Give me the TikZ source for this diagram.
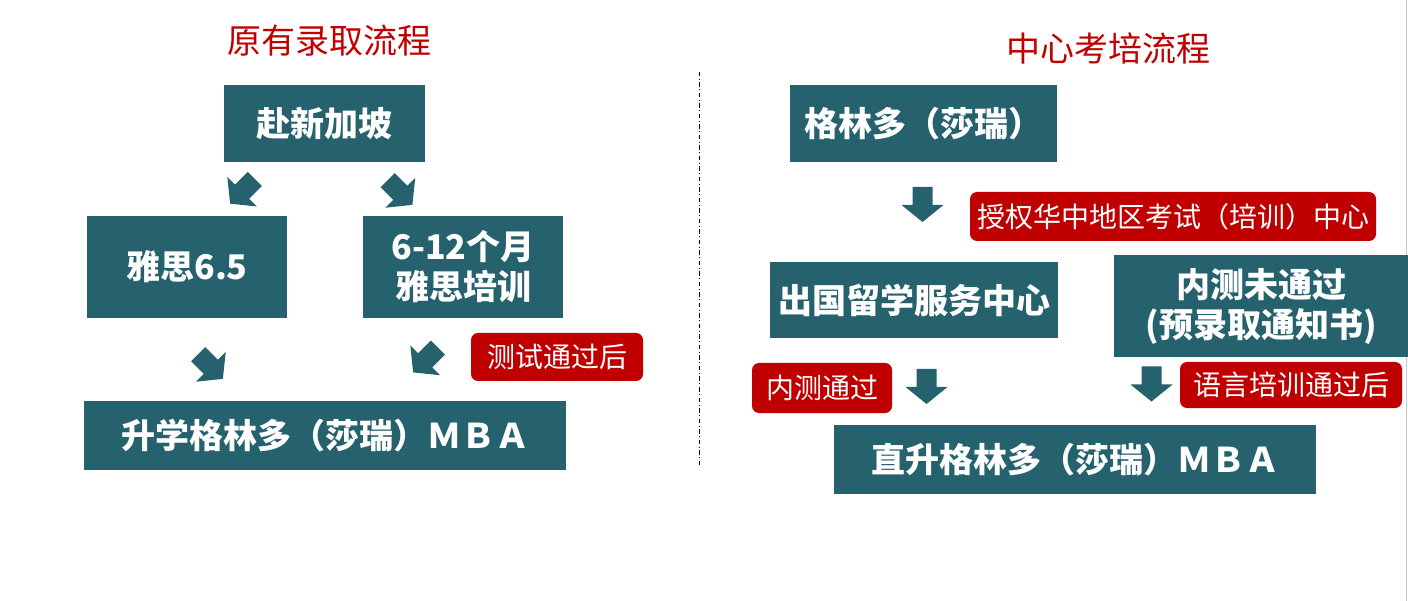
\documentclass[tikz,border=0pt]{standalone}
\usepackage{fontspec}
\setmainfont{Noto Sans CJK SC}
\definecolor{boxteal}{HTML}{26626E}
\definecolor{boxred}{HTML}{C00000}
\begin{document}
\begin{tikzpicture}[x=1pt,y=-1pt,
  tbox/.style={fill=boxteal, text=white, inner sep=0pt, align=center,
    font=\bfseries\fontsize{34}{40}\selectfont},
  rlabel/.style={fill=boxred, text=white, inner sep=0pt, rounded corners=7pt,
    font=\fontsize{28}{34}\selectfont},
  ttl/.style={text=boxred, inner sep=0pt, font=\fontsize{34}{40}\selectfont},
  divider/.style={black, line width=1pt, dash pattern=on 4.5pt off 2.5pt on 1pt off 2.5pt},
  blockarrow/.pic={\fill[boxteal] (-10,-17.5) -- (10,-17.5) -- (10,0.5) -- (21,0.5)
    -- (0,17.5) -- (-21,0.5) -- (-10,0.5) -- cycle;}]
\useasboundingbox (0,0) rectangle (1408,601);
\fill[white] (0,0) rectangle (1408,601);
\draw[black!22, line width=1.5pt] (1406.5,0) -- (1406.5,601);
% titles
\node[ttl] (t1) at (329,41) {原有录取流程};
\node[ttl] (t2) at (1108,48) {中心考培流程};
% divider
\draw[divider] (699,72) -- (699,465);
% left flow
\node[tbox, minimum width=201pt, minimum height=77pt] (n1) at (324.5,123.5) {赴新加坡};
\node[tbox, minimum width=200pt, minimum height=102pt] (n2) at (187,267) {雅思6.5};
\node[tbox, minimum width=200pt, minimum height=102pt] (n3) at (463,267) {6-12个月\\雅思培训};
\node[rlabel, minimum width=172pt, minimum height=48pt] (r1) at (557,357) {测试通过后};
\node[tbox, minimum width=482pt, minimum height=69pt] (n4) at (325,435.5) {升学格林多（莎瑞）ＭＢＡ};
\pic[rotate=-45] (aL1) at (242.5,191.3) {blockarrow};
\pic[rotate=45] (aR1) at (400,192.5) {blockarrow};
\pic[rotate=45] (aL2) at (210.5,366.5) {blockarrow};
\pic[rotate=-45] (aR2) at (425.5,360) {blockarrow};
% right flow
\node[tbox, minimum width=267pt, minimum height=77pt] (m1) at (923.5,123.5) {格林多（莎瑞）};
\node[rlabel, minimum width=406pt, minimum height=49pt] (r2) at (1173,216.5) {授权华中地区考试（培训）中心};
\node[tbox, minimum width=288pt, minimum height=76pt] (m2) at (914,300) {出国留学服务中心};
\node[tbox, minimum width=295pt, minimum height=102pt] (m3) at (1261,306) {内测未通过\\(预录取通知书)};
\node[rlabel, minimum width=140pt, minimum height=50pt] (r3) at (822,388) {内测通过};
\node[rlabel, minimum width=222pt, minimum height=46pt] (r4) at (1291,385) {语言培训通过后};
\node[tbox, minimum width=482pt, minimum height=69pt] (m4) at (1075,459.5) {直升格林多（莎瑞）ＭＢＡ};
\pic (a5) at (922.5,204.5) {blockarrow};
\pic (a6) at (926.5,386.5) {blockarrow};
\pic (a7) at (1151.5,384) {blockarrow};
\end{tikzpicture}
\end{document}
